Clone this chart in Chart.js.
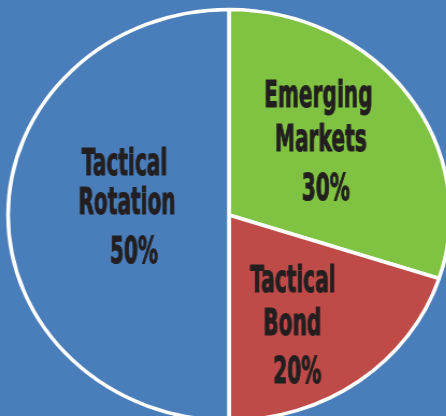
<!DOCTYPE html>
<html>
<head>
<meta charset="utf-8">
<script src="https://cdn.jsdelivr.net/npm/chart.js@4.4.0/dist/chart.umd.min.js"></script>
<style>
  html, body { margin: 0; padding: 0; background: #4a7ebb; overflow: hidden; width: 446px; height: 416px; }
  #wrap { transform: scaleX(1.075); transform-origin: 0 0; width: 426px; height: 430px; }
</style>
</head>
<body>
<div id="wrap"><canvas id="pie" width="426" height="430"></canvas></div>
<script>
// Chart data
var categories = ['Emerging Markets', 'Tactical Bond', 'Tactical Rotation'];
var shares     = [30, 20, 50];
var colours    = ['#80c241', '#be4b48', '#4a7ebb'];

// Horizontal stretch applied to the canvas (reference pie is slightly oval)
var STRETCH = 1.075;
// Condensed look for the label font
var SQUEEZE = 0.53;

// Label line offsets (screen px) from each slice's centre point
var labelOffsets = [
	[[0, -48], [2.5, -4], [7.5, 45]],
	[[-1, -6], [-1.5, 37], [3.5, 85]],
	[[6, -40], [8.5, -1], [15.5, 48]]
];

var sliceLabels = {
	id: 'sliceLabels',
	afterDatasetsDraw: function (chart) {
		var ctx  = chart.ctx;
		var meta = chart.getDatasetMeta(0);
		ctx.save();
		ctx.fillStyle    = '#231f20';
		ctx.strokeStyle  = '#231f20';
		ctx.lineWidth    = 1.2;
		ctx.lineJoin     = 'round';
		ctx.font         = 'bold 38px "DejaVu Sans"';
		ctx.textAlign    = 'center';
		ctx.textBaseline = 'alphabetic';
		meta.data.forEach(function (arc, i) {
			var p     = arc.tooltipPosition();
			var words = categories[i].split(' ');
			var lines = [words[0], words[1], shares[i] + '%'];
			lines.forEach(function (txt, j) {
				var off = labelOffsets[i][j];
				ctx.save();
				ctx.translate(p.x + off[0] / STRETCH, p.y + off[1]);
				ctx.scale(SQUEEZE / STRETCH, 1);
				ctx.fillText(txt, 0, 0);
				ctx.strokeText(txt, 0, 0);
				ctx.restore();
			});
		});
		ctx.restore();
	}
};

new Chart(document.getElementById('pie'), {
	type: 'pie',
	data: {
		labels: categories,
		datasets: [{
			data: shares,
			backgroundColor: colours,
			borderColor: '#ffffff',
			borderWidth: 3.5,
			radius: 205.5
		}]
	},
	options: {
		responsive: false,
		animation: false,
		devicePixelRatio: 1,
		layout: { padding: 0 },
		plugins: {
			legend: { display: false },
			tooltip: { enabled: false }
		}
	},
	plugins: [sliceLabels]
});
</script>
</body>
</html>
